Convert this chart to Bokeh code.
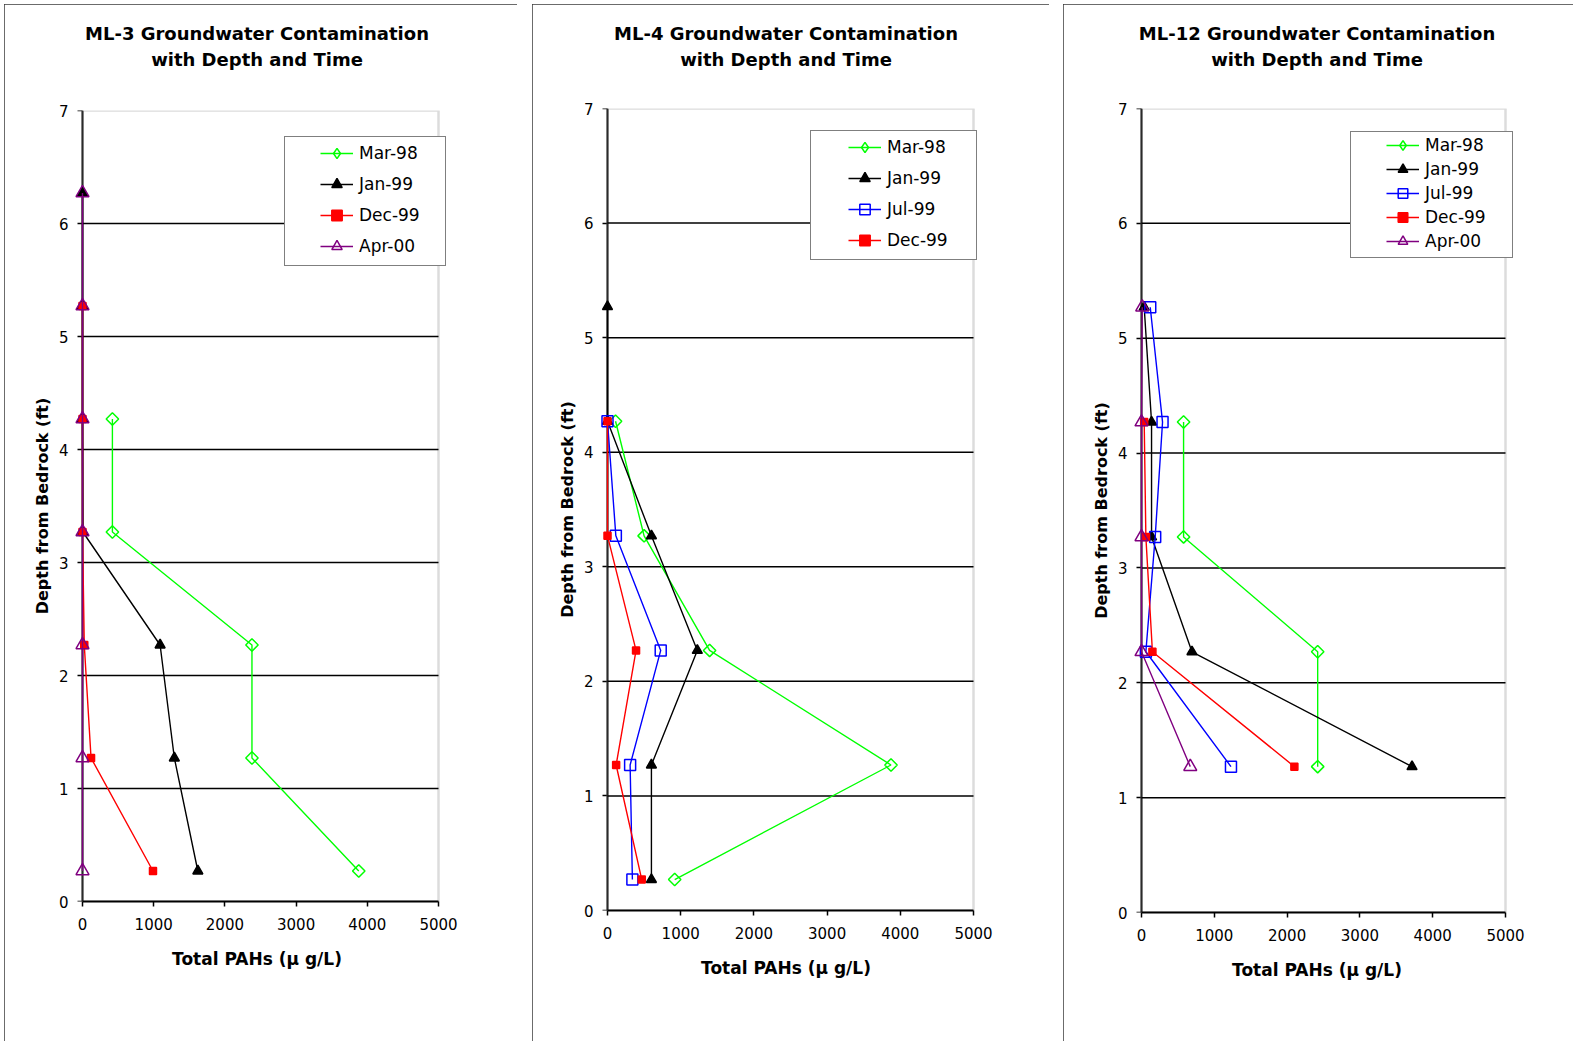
import math
from bokeh.plotting import figure
from bokeh.layouts import row, column
from bokeh.models import (Range1d, Legend, LegendItem, BoxAnnotation, FixedTicker,
                          Title, LinearAxis)
from bokeh.embed import file_html
from bokeh.resources import INLINE

# ---------------- data (depth from bedrock, ft ; total PAHs, ug/L) ----------------
ml3_mar98_depth = [4.27, 3.27, 2.27, 1.27, 0.27]
ml3_mar98_pah = [420, 420, 2380, 2380, 3880]
ml3_jan99_depth = [6.27, 5.27, 4.27, 3.27, 2.27, 1.27, 0.27]
ml3_jan99_pah = [0, 0, 0, 5, 1090, 1290, 1620]
ml3_dec99_depth = [5.27, 4.27, 3.27, 2.27, 1.27, 0.27]
ml3_dec99_pah = [0, 0, 0, 25, 120, 990]
ml3_apr00_depth = [6.27, 5.27, 4.27, 3.27, 2.27, 1.27, 0.27]
ml3_apr00_pah = [0, 0, 0, 0, 0, 0, 0]

ml4_mar98_depth = [4.27, 3.27, 2.27, 1.27, 0.27]
ml4_mar98_pah = [110, 500, 1395, 3873, 918]
ml4_jan99_depth = [5.27, 4.27, 3.27, 2.27, 1.27, 0.27]
ml4_jan99_pah = [0, 0, 600, 1227, 600, 600]
ml4_jul99_depth = [4.27, 3.27, 2.27, 1.27, 0.27]
ml4_jul99_pah = [0, 114, 727, 309, 340]
ml4_dec99_depth = [4.27, 3.27, 2.27, 1.27, 0.27]
ml4_dec99_pah = [0, 0, 390, 118, 468]

ml12_mar98_depth = [4.27, 3.27, 2.27, 1.27]
ml12_mar98_pah = [578, 578, 2420, 2420]
ml12_jan99_depth = [5.27, 4.27, 3.27, 2.27, 1.27]
ml12_jan99_pah = [37, 138, 138, 693, 3716]
ml12_jul99_depth = [5.27, 4.27, 3.27, 2.27, 1.27]
ml12_jul99_pah = [120, 289, 188, 60, 1229]
ml12_dec99_depth = [4.27, 3.27, 2.27, 1.27]
ml12_dec99_pah = [37, 60, 150, 2100]
ml12_apr00_depth = [5.27, 4.27, 3.27, 2.27, 1.27]
ml12_apr00_pah = [10, 0, 0, 0, 670]

x_ticks = [0, 1000, 2000, 3000, 4000, 5000]
y_ticks = [0, 1, 2, 3, 4, 5, 6, 7]
grid_ticks = [1, 2, 3, 4, 5, 6]
X_MAX = 5000
Y_MAX = 7

x_label = "Total PAHs (\u00b5 g/L)"
y_label = "Depth from Bedrock (ft)"

# ---------------- styles ----------------
STYLES = {
    "Mar-98": dict(color="#00FF00", marker="square", size=8.8, angle=math.pi / 4,
                   fill=None, leg_marker="diamond"),
    "Jan-99": dict(color="#000000", marker="triangle", size=10, angle=0.0,
                   fill="#000000", leg_marker=None),
    "Jul-99": dict(color="#0000FF", marker="square", size=11, angle=0.0,
                   fill=None, leg_marker=None),
    "Dec-99": dict(color="#FF0000", marker="square", size=7, angle=0.0,
                   fill="#FF0000", leg_marker=None),
    "Apr-00": dict(color="#800080", marker="triangle", size=13, angle=0.0,
                   fill=None, leg_marker=None),
}

FONT = "DejaVu Sans"
LEG_PAD = 5
LABEL_GAP = 13.7   # px between the y axis line and the right edge of its tick labels


def make_panel(title1, title2, series, panel_x, width, height, margin_left,
               left, plot_w, top, plot_h, pad_l, pad_r,
               glyph_x, row1_c, glyph_h, leg_spacing, box):
    # pad_l / pad_r: blank px beside the data area (markers on the axis stay whole,
    # the legend box may overhang the right edge)
    dl = pad_l * X_MAX / plot_w
    dr = pad_r * X_MAX / plot_w
    fw = plot_w + pad_l + pad_r
    right = width - (left - pad_l) - fw
    bottom = height - top - plot_h
    p = figure(width=width, height=height,
               x_range=Range1d(-dl, X_MAX + dr), y_range=Range1d(0, Y_MAX),
               output_backend="svg", toolbar_location=None,
               min_border_left=left - pad_l, min_border_right=right,
               min_border_top=top, min_border_bottom=bottom,
               background_fill_color="white", border_fill_color="white",
               margin=(4, 0, 0, margin_left),
               styles={"outline": "2px solid #3a3a3a", "outline-offset": "-2px"})
    p.title.visible = False
    frame_top = 4 + top                    # page coordinates
    frame_left = panel_x + left - pad_l    # page coordinates

    gap = frame_top - 69.6
    # spacer, second line, first line -- stacked outward from the frame
    p.add_layout(Title(text=" ", text_font=FONT, text_font_size="18px",
                       standoff=gap - 23.3), "above")
    p.add_layout(Title(text=title2, align="center",
                       text_font=FONT, text_font_size="18px", text_font_style="bold",
                       text_color="#000000", standoff=2), "above")
    p.add_layout(Title(text=title1, align="center",
                       text_font=FONT, text_font_size="18px", text_font_style="bold",
                       text_color="#000000", standoff=4), "above")

    p.outline_line_color = None
    # grey border of the data area
    p.add_layout(BoxAnnotation(left=0, right=X_MAX, bottom=0, top=Y_MAX,
                               fill_alpha=0, line_color="#8c8c8c", line_width=2.5,
                               level="underlay"))

    # x axis
    xa = p.xaxis[0]
    xa.ticker = FixedTicker(ticks=x_ticks)
    xa.bounds = (0, X_MAX)
    xa.axis_label = x_label
    xa.axis_line_color = "#000000"
    xa.axis_line_width = 2
    xa.major_tick_line_color = "#000000"
    xa.major_tick_line_width = 1.5
    xa.major_tick_out = 5
    xa.major_tick_in = 0
    xa.minor_tick_line_color = None
    xa.major_label_text_font = FONT
    xa.major_label_text_font_size = "15px"
    xa.major_label_text_color = "#000000"
    xa.major_label_standoff = 11
    xa.axis_label_text_font = FONT
    xa.axis_label_text_font_size = "17px"
    xa.axis_label_text_font_style = "bold"
    xa.axis_label_text_color = "#000000"
    xa.axis_label_standoff = 16

    # y axis: labels (at the frame edge, no line/ticks)
    ya = p.yaxis[0]
    ya.ticker = FixedTicker(ticks=y_ticks)
    ya.axis_label = y_label
    ya.axis_line_color = None
    ya.major_tick_line_color = None
    ya.major_tick_out = 0
    ya.major_tick_in = 0
    ya.minor_tick_line_color = None
    ya.major_label_text_font = FONT
    ya.major_label_text_font_size = "15px"
    ya.major_label_text_color = "#000000"
    ya.major_label_standoff = int(round(LABEL_GAP - pad_l))
    ya.axis_label_text_font = FONT
    ya.axis_label_text_font_size = "16px"
    ya.axis_label_text_font_style = "bold"
    ya.axis_label_text_color = "#000000"
    ya.axis_label_standoff = 4

    # y axis line and ticks at x = 0, drawn beneath the series
    ya0 = LinearAxis(fixed_location=0, ticker=FixedTicker(ticks=y_ticks),
                     axis_line_color="#000000", axis_line_width=2,
                     major_tick_line_color="#000000", major_tick_line_width=1.5,
                     major_tick_out=5, major_tick_in=0,
                     minor_tick_line_color=None,
                     major_label_text_color=None, level="underlay")
    p.add_layout(ya0, "left")

    p.xgrid.visible = False
    p.ygrid.visible = False
    n = len(grid_ticks)
    p.segment(x0=[0] * n, y0=grid_ticks, x1=[X_MAX] * n, y1=grid_ticks,
              line_color="#000000", line_width=1.5)

    items = []
    for name, pah, depth in series:
        st = STYLES[name]
        lr = p.line(pah, depth, line_color=st["color"], line_width=1.4)
        mr = p.scatter(pah, depth, marker=st["marker"], size=st["size"],
                       angle=st["angle"], line_color=st["color"], line_width=1.5,
                       fill_color=st["fill"])
        rends = [lr, mr]
        if st["leg_marker"] is not None:
            # legend-only shape (the legend never rotates markers); hidden on the plot
            lm = p.scatter(pah, depth, marker=st["leg_marker"], line_color=st["color"],
                           line_width=1.5, fill_color=st["fill"], visible=False)
            rends = [lr, lm]
        items.append(LegendItem(label=name, renderers=rends))

    # legend frame (white box with black border)
    bl, bt, br, bb = box
    bw = int(round(br - bl))
    bh = int(round(bb - bt))
    dummy = p.scatter([], [], fill_alpha=0, line_alpha=0)
    frame_leg = Legend(items=[LegendItem(label=" ", renderers=[dummy])],
                       location=(int(round(bl - frame_left)),
                                 int(round(plot_h - (bb - frame_top)))),
                       padding=0, margin=0, spacing=0,
                       glyph_width=1, glyph_height=bh, label_height=bh,
                       label_width=bw - 1, label_standoff=0,
                       background_fill_color="white", background_fill_alpha=1.0,
                       border_line_color="#000000", border_line_width=1.5)
    p.add_layout(frame_leg, "center")

    nrow = len(items)
    leg_h = 2 * LEG_PAD + nrow * glyph_h + (nrow - 1) * leg_spacing
    leg_top = row1_c - LEG_PAD - glyph_h / 2 - frame_top
    leg = Legend(items=items,
                 location=(int(round(glyph_x - LEG_PAD - frame_left)),
                           int(round(plot_h - leg_top - leg_h))),
                 padding=LEG_PAD, spacing=leg_spacing, margin=0,
                 glyph_width=33, glyph_height=glyph_h, label_height=glyph_h,
                 label_standoff=6,
                 label_text_font=FONT, label_text_font_size="17px",
                 label_text_color="#000000",
                 inactive_fill_alpha=0.0,
                 background_fill_alpha=0.0, border_line_alpha=0.0)
    p.add_layout(leg, "center")
    return p


p1 = make_panel("ML-3 Groundwater Contamination", "with Depth and Time",
                [("Mar-98", ml3_mar98_pah, ml3_mar98_depth),
                 ("Jan-99", ml3_jan99_pah, ml3_jan99_depth),
                 ("Dec-99", ml3_dec99_pah, ml3_dec99_depth),
                 ("Apr-00", ml3_apr00_pah, ml3_apr00_depth)],
                4, 513, 1037, 4,
                78, 356, 106, 791, 16, 9,
                320, 153, 26, 5, (284.3, 137.7, 444.3, 266))

p2 = make_panel("ML-4 Groundwater Contamination", "with Depth and Time",
                [("Mar-98", ml4_mar98_pah, ml4_mar98_depth),
                 ("Jan-99", ml4_jan99_pah, ml4_jan99_depth),
                 ("Jul-99", ml4_jul99_pah, ml4_jul99_depth),
                 ("Dec-99", ml4_dec99_pah, ml4_dec99_depth)],
                532, 517, 1037, 15,
                75, 366, 104, 802, 13, 4,
                848, 146.7, 26, 5, (810, 131.7, 975, 260))

p3 = make_panel("ML-12 Groundwater Contamination", "with Depth and Time",
                [("Mar-98", ml12_mar98_pah, ml12_mar98_depth),
                 ("Jan-99", ml12_jan99_pah, ml12_jan99_depth),
                 ("Jul-99", ml12_jul99_pah, ml12_jul99_depth),
                 ("Dec-99", ml12_dec99_pah, ml12_dec99_depth),
                 ("Apr-00", ml12_apr00_pah, ml12_apr00_depth)],
                1063, 510, 1037, 14,
                78, 364, 104, 804, 22, 9,
                1386, 145, 24, 0, (1350, 133, 1511, 258))

layout = row(column(p1), column(p2), column(p3), spacing=0)

open("out.html", "w").write(file_html(layout, INLINE))
